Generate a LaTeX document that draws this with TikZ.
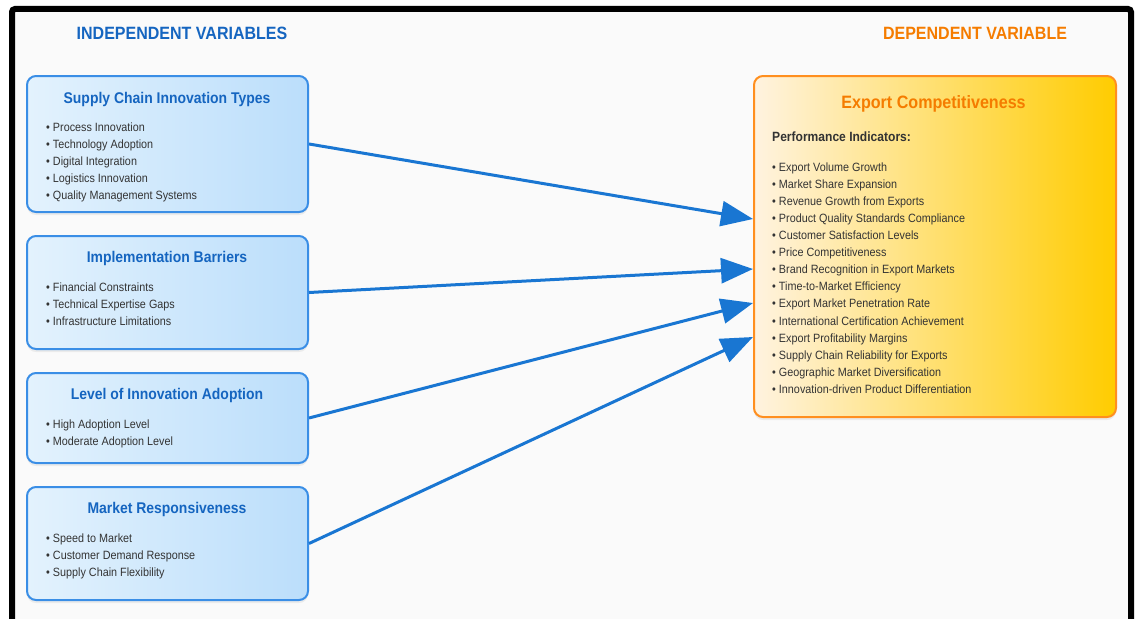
\documentclass[tikz,border=0pt]{standalone}
\usepackage{fontspec}
\setmainfont{Liberation Sans}[FakeStretch=0.9]
\usetikzlibrary{arrows.meta,shadows}
\definecolor{bluetitle}{HTML}{1565C0}
\definecolor{orangetitle}{HTML}{F57C00}
\definecolor{boxL}{HTML}{E3F2FD}
\definecolor{boxR}{HTML}{BBDEFB}
\definecolor{boxB}{HTML}{3A8EE6}
\definecolor{dvL}{HTML}{FFF3E0}
\definecolor{dvR}{HTML}{FFCC00}
\definecolor{dvB}{HTML}{FF8F1F}
\definecolor{arrowc}{HTML}{1976D2}
\definecolor{txt}{HTML}{333333}
\definecolor{bg}{HTML}{FAFAFA}
\begin{document}
\begin{tikzpicture}[x=1pt,y=-1pt,
  ivbox/.style={draw=boxB, line width=2pt, rounded corners=9pt,
    left color=boxL, right color=boxR, minimum width=281pt, inner sep=0pt,
    anchor=north west, drop shadow={shadow xshift=0pt, shadow yshift=-3pt, opacity=0.12}},
  dvbox/.style={draw=dvB, line width=2pt, rounded corners=9pt,
    left color=dvL, right color=dvR, minimum width=362pt, minimum height=341pt,
    inner sep=0pt, anchor=north west, drop shadow={shadow xshift=0pt, shadow yshift=-3pt, opacity=0.12}},
  sectitle/.style={font=\fontsize{17.8}{20}\selectfont\bfseries, anchor=base},
  boxtitle/.style={font=\fontsize{15.5}{18}\selectfont\bfseries, text=bluetitle, anchor=base},
  item/.style={font=\fontsize{12}{14}\selectfont, text=txt, anchor=base west, inner sep=0pt},
  arr/.style={draw=arrowc, line width=3pt, -{Triangle[length=32pt,width=25pt]}}
]
\useasboundingbox (0,0) rectangle (1139,618);
\draw[line width=6pt, rounded corners=3pt, fill=bg] (12,9) rectangle (1131,660);

\node[sectitle, text=bluetitle] (indep) at (182,39.4) {INDEPENDENT VARIABLES};
\node[sectitle, text=orangetitle] (dep) at (975,39.4) {DEPENDENT VARIABLE};

% independent boxes
\node[ivbox, minimum height=136pt] (b1) at (26,75) {};
\node[ivbox, minimum height=113pt] (b2) at (26,235) {};
\node[ivbox, minimum height=90pt] (b3) at (26,372) {};
\node[ivbox, minimum height=113pt] (b4) at (26,486) {};

\node[boxtitle] (t1) at (167,103.5) {Supply Chain Innovation Types};
\node[boxtitle] (t2) at (167,262.5) {Implementation Barriers};
\node[boxtitle] (t3) at (167,399.5) {Level of Innovation Adoption};
\node[boxtitle] (t4) at (167,513.5) {Market Responsiveness};

\foreach \t [count=\i] in {Process Innovation, Technology Adoption, Digital Integration, Logistics Innovation, Quality Management Systems}
  \node[item] (b1i\i) at (46,{131.3+17*(\i-1)}) {• \t};
\foreach \t [count=\i] in {Financial Constraints, Technical Expertise Gaps, Infrastructure Limitations}
  \node[item] (b2i\i) at (46,{291.3+17*(\i-1)}) {• \t};
\foreach \t [count=\i] in {High Adoption Level, Moderate Adoption Level}
  \node[item] (b3i\i) at (46,{428.3+17*(\i-1)}) {• \t};
\foreach \t [count=\i] in {Speed to Market, Customer Demand Response, Supply Chain Flexibility}
  \node[item] (b4i\i) at (46,{542.3+17*(\i-1)}) {• \t};

% dependent box
\node[dvbox] (dv) at (753,75) {};
\node[font=\fontsize{17.9}{20}\selectfont\bfseries, text=orangetitle, anchor=base] (dvt) at (933.5,108.4) {Export Competitiveness};
\node[font=\fontsize{13.4}{16}\selectfont\bfseries, text=txt, anchor=base west, inner sep=0pt] (pi) at (772,141.8) {Performance Indicators:};
\foreach \t [count=\i] in {Export Volume Growth, Market Share Expansion, Revenue Growth from Exports, Product Quality Standards Compliance, Customer Satisfaction Levels, Price Competitiveness, Brand Recognition in Export Markets, Time-to-Market Efficiency, Export Market Penetration Rate, International Certification Achievement, Export Profitability Margins, Supply Chain Reliability for Exports, Geographic Market Diversification, Innovation-driven Product Differentiation}
  \node[item] (dvi\i) at (772,{171.3+17.08*(\i-1)}) {• \t};

% connectors
\draw[arr] (b1.east) -- ([yshift=27.5pt]dv.west);
\draw[arr] (b2.east) -- ([yshift=-22.5pt]dv.west);
\draw[arr] (b3.east) -- ([yshift=-56.5pt]dv.west);
\draw[arr] (b4.east) -- ([yshift=-90.5pt]dv.west);
\end{tikzpicture}
\end{document}
